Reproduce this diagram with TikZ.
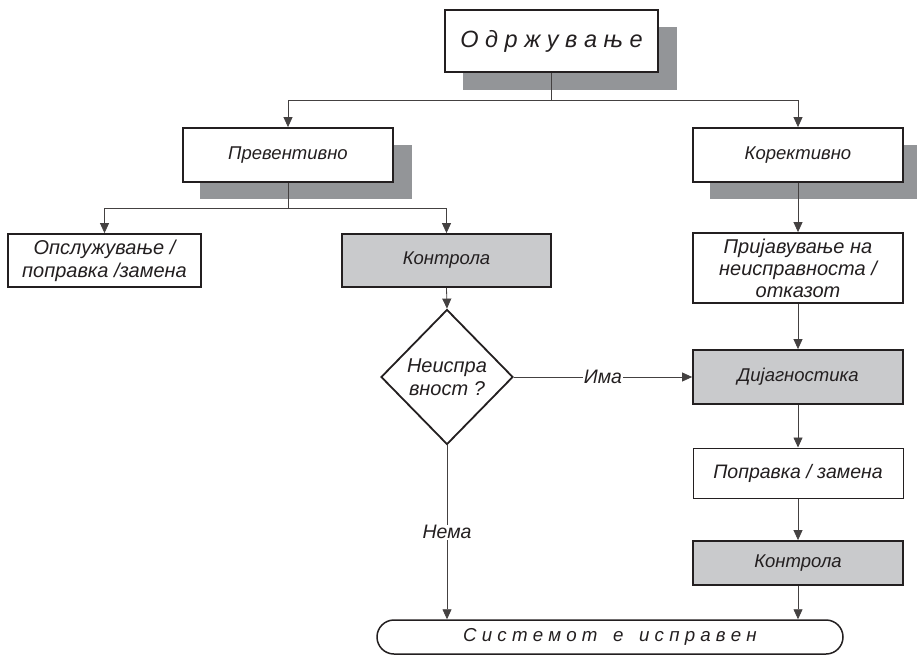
\documentclass[tikz,border=0pt]{standalone}
\usepackage{fontspec}
\setmainfont{Liberation Sans}
\usetikzlibrary{arrows.meta,shapes.geometric}

\definecolor{shadowgray}{HTML}{939598}
\definecolor{boxgray}{HTML}{C9CACC}
\definecolor{ink}{HTML}{231F20}

\newcommand{\fsz}[2]{\itshape\fontsize{#1}{#2}\selectfont}

\begin{document}
\begin{tikzpicture}[x=1pt,y=-1pt,
  every node/.style={font=\fsz{18.5}{23}, text=ink},
  box/.style={draw=ink, line width=1.8pt, fill=white, minimum width=210pt,
              minimum height=54pt, inner sep=2pt, align=center},
  graybox/.style={box, fill=boxgray},
  big/.style={font=\fsz{20}{23}},
  link/.style={draw=ink!85, line width=0.8pt},
  arr/.style={link, -{Triangle[length=10pt,width=9pt]}},
  lbl/.style={fill=white, inner sep=1pt, font=\fsz{19.5}{23}}
]
\useasboundingbox (0,0) rectangle (917,655);

% drop shadows of the three heading boxes
\fill[shadowgray] (463,27) rectangle (677,90);
\fill[shadowgray] (200,145) rectangle (412,199);
\fill[shadowgray] (710,145) rectangle (922,199);

% heading boxes
\node[box, minimum width=213pt, minimum height=62pt,
      font=\fsz{23.5}{26}] (top) at (551.5,41)
      {О д р ж у в а њ е};
\node[box] (prev) at (288,155) {Превентивно};
\node[box] (kor)  at (798,155) {Корективно};

% preventive branch
\node[box, big, minimum width=193pt, minimum height=53pt] (opsl) at (104.5,260.5)
      {Опслужување /\\поправка /замена};
\node[graybox, minimum width=209pt, minimum height=53pt] (kontrA) at (446.5,260.5)
      {Контрола};
\node[draw=ink, line width=1.8pt, fill=white, shape=diamond, inner sep=0pt,
      minimum width=132pt, minimum height=135pt, align=center, big] (dia) at (447,377)
      {Неиспра\\вност ?};

% corrective branch
\node[box, font=\fsz{20}{22}, minimum height=70pt, fill=white] (prij) at (798,268)
      {Пријавување на\\неисправноста /\\отказот};
\node[graybox] (dijag) at (798,377) {Дијагностика};
\node[box, line width=1pt, minimum height=50pt, font=\fsz{19.5}{23}] (popr) at (798,473)
      {Поправка / замена};
\node[graybox, minimum height=44pt] (kontrB) at (798,563) {Контрола};

% terminal
\node[draw=ink, line width=1.5pt, fill=white, rounded corners=17pt,
      minimum width=466pt, minimum height=34pt, inner sep=0pt,
      font=\fsz{18.7}{22}] (term) at (610,637)
      {С и с т е м о т \ \ е \ \ и с п р а в е н};

% connectors
\draw[link] (top.south) -- ++(0,28) coordinate (j1);
\draw[arr] (j1) -| (prev.north);
\draw[arr] (j1) -| (kor.north);

\draw[link] (prev.south) -- ++(0,25) coordinate (j2);
\draw[arr] (j2) -| (opsl.north);
\draw[arr] (j2) -| (kontrA.north);

\draw[arr] (kontrA.south) -- (dia.north);
\draw[arr] (dia.east) -- node[lbl] {Има} (dijag.west);
\draw[arr] (dia.south) -- node[lbl] {Нема} (dia.south |- term.north);

\draw[arr] (kor.south) -- (prij.north);
\draw[arr] (prij.south) -- (dijag.north);
\draw[arr] (dijag.south) -- (popr.north);
\draw[arr] (popr.south) -- (kontrB.north);
\draw[arr] (kontrB.south) -- (kontrB.south |- term.north);
\end{tikzpicture}
\end{document}
